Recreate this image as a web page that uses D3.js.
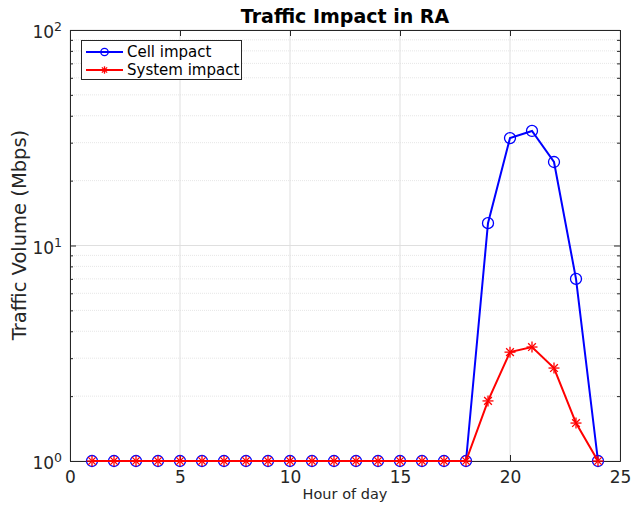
<!DOCTYPE html>
<html><head><meta charset="utf-8">
<script src="https://d3js.org/d3.v7.min.js"></script>
<style>body{margin:0;background:#fff}svg{display:block;font-family:"DejaVu Sans",sans-serif}</style>
</head><body><svg id="c" width="631" height="506"></svg>
<script>
const hours = d3.range(1, 25);
const cellImpact = [1,1,1,1,1,1,1,1,1,1,1,1,1,1,1,1,1,1,12.7,31.5,34,24.4,7.0,1];
const systemImpact = [1,1,1,1,1,1,1,1,1,1,1,1,1,1,1,1,1,1,1.9,3.2,3.38,2.7,1.5,1];
const xTicks = [0,5,10,15,20,25];
const yTicks = [1,10,100];
const seriesNames = ["Cell impact","System impact"];
const seriesColors = ["#0000ff","#ff0000"];

const svg = d3.select("#c");
const L=70,R=620,T=30,B=461;
const x = d3.scaleLinear().domain([0,25]).range([L,R]);
const y = d3.scaleLog().domain([1,100]).range([B,T]);

// grid
const g = svg.append("g");
const minor = [];
for (let d=1; d<100; d*=10) for (let k=2;k<=9;k++) minor.push(d*k);
g.selectAll(".ym").data(minor).enter().append("line")
 .attr("x1",L).attr("x2",R).attr("y1",d=>y(d)).attr("y2",d=>y(d))
 .attr("stroke","#e6e6e6").attr("stroke-width",1).attr("stroke-dasharray","1,1");
g.selectAll(".yM").data(yTicks).enter().append("line")
 .attr("x1",L).attr("x2",R).attr("y1",d=>y(d)).attr("y2",d=>y(d))
 .attr("stroke","#dfdfdf").attr("stroke-width",1);
g.selectAll(".xM").data(xTicks).enter().append("line")
 .attr("y1",T).attr("y2",B).attr("x1",d=>x(d)).attr("x2",d=>x(d))
 .attr("stroke","#dfdfdf").attr("stroke-width",1);

// axes
const ax = svg.append("g").attr("transform",`translate(0,${B})`)
 .call(d3.axisBottom(x).tickValues(xTicks).tickSizeInner(-6).tickSizeOuter(0).tickPadding(10).tickFormat(d3.format("d")));
const axT = svg.append("g").attr("transform",`translate(0,${T})`)
 .call(d3.axisTop(x).tickValues(xTicks).tickSizeInner(-6).tickSizeOuter(0).tickFormat(""));
const ay = svg.append("g").attr("transform",`translate(${L},0)`)
 .call(d3.axisLeft(y).tickValues(yTicks).tickSizeInner(-6).tickSizeOuter(0).tickFormat(""));
const ayR = svg.append("g").attr("transform",`translate(${R},0)`)
 .call(d3.axisRight(y).tickValues(yTicks).tickSizeInner(-6).tickSizeOuter(0).tickFormat(""));
const ayMin = svg.append("g").attr("transform",`translate(${L},0)`)
 .call(d3.axisLeft(y).tickValues(minor).tickSizeInner(-3).tickSizeOuter(0).tickFormat(""));
const ayMinR = svg.append("g").attr("transform",`translate(${R},0)`)
 .call(d3.axisRight(y).tickValues(minor).tickSizeInner(-3).tickSizeOuter(0).tickFormat(""));
[ax,axT,ay,ayR,ayMin,ayMinR].forEach(a=>{
  a.select(".domain").attr("stroke","#262626");
  a.selectAll(".tick line").attr("stroke","#262626");
});
ax.selectAll("text").attr("font-size",17).attr("fill","#262626").attr("font-family","DejaVu Sans");

// y tick labels with superscripts
const yl = svg.append("g");
yTicks.forEach(v=>{
  const t = yl.append("text").attr("x",L-8).attr("y",y(v)+8).attr("text-anchor","end")
   .attr("font-size",17).attr("fill","#262626");
  t.append("tspan").text("10");
  t.append("tspan").attr("dy",-7).attr("font-size",12.5).text(Math.round(Math.log10(v)));
});

// labels
svg.append("text").attr("x",(L+R)/2).attr("y",23).attr("text-anchor","middle")
 .attr("font-size",19).attr("font-weight","bold").attr("fill","#000").text("Traffic Impact in RA");
svg.append("text").attr("transform",`translate(26,235) rotate(-90)`).attr("text-anchor","middle")
 .attr("font-size",19.5).attr("fill","#262626").text("Traffic Volume (Mbps)");
svg.append("text").attr("x",(L+R)/2).attr("y",499).attr("text-anchor","middle")
 .attr("font-size",14.5).attr("fill","#262626").text("Hour of day");

// series
const line = d3.line().x((d,i)=>x(hours[i])).y(d=>y(d));
function star(sel,cx,cy,r,col){
  const gg = sel.append("g").attr("stroke",col).attr("stroke-width",1.3);
  gg.append("line").attr("x1",cx-r).attr("x2",cx+r).attr("y1",cy).attr("y2",cy);
  gg.append("line").attr("x1",cx).attr("x2",cx).attr("y1",cy-r).attr("y2",cy+r);
  const q=r*0.7;
  gg.append("line").attr("x1",cx-q).attr("x2",cx+q).attr("y1",cy-q).attr("y2",cy+q);
  gg.append("line").attr("x1",cx-q).attr("x2",cx+q).attr("y1",cy+q).attr("y2",cy-q);
}
const plot = svg.append("g");
plot.append("path").attr("d",line(cellImpact)).attr("fill","none").attr("stroke",seriesColors[0]).attr("stroke-width",2);
plot.selectAll(".c").data(cellImpact).enter().append("circle")
 .attr("cx",(d,i)=>x(hours[i])).attr("cy",d=>y(d)).attr("r",5.5)
 .attr("fill","none").attr("stroke",seriesColors[0]).attr("stroke-width",1.3);
plot.append("path").attr("d",line(systemImpact)).attr("fill","none").attr("stroke",seriesColors[1]).attr("stroke-width",2);
systemImpact.forEach((d,i)=>star(plot,x(hours[i]),y(d),5.5,seriesColors[1]));

// legend
const lg = svg.append("g");
lg.append("rect").attr("x",81.5).attr("y",40.5).attr("width",160).attr("height",39)
 .attr("fill","#fff").attr("stroke","#262626").attr("stroke-width",1);
seriesNames.forEach((n,i)=>{
  const cy = 52+i*18;
  lg.append("line").attr("x1",86).attr("x2",123).attr("y1",cy).attr("y2",cy)
   .attr("stroke",seriesColors[i]).attr("stroke-width",2);
  if(i===0) lg.append("circle").attr("cx",104.5).attr("cy",cy).attr("r",3.7).attr("fill","none")
   .attr("stroke",seriesColors[i]).attr("stroke-width",1.3);
  else star(lg,104.5,cy,3.7,seriesColors[i]);
  lg.append("text").attr("x",127).attr("y",cy+5).attr("font-size",15).attr("fill","#000").text(n);
});
</script></body></html>
